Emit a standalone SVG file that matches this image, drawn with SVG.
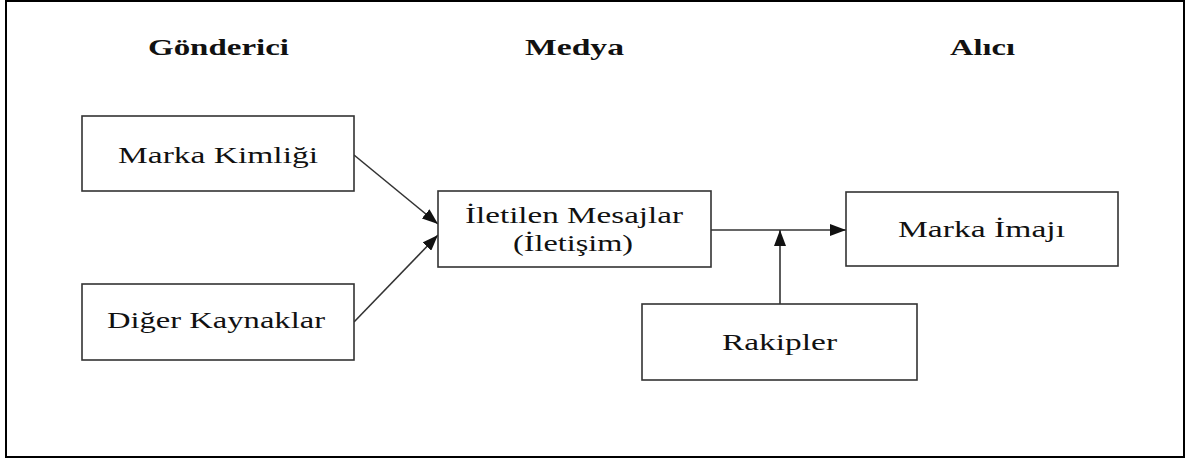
<svg xmlns="http://www.w3.org/2000/svg" width="1192" height="459" viewBox="0 0 1192 459">
  <defs>
    <marker id="arrow" markerUnits="userSpaceOnUse" markerWidth="16" markerHeight="12" refX="16" refY="6" orient="auto">
      <path d="M0,0 L16,6 L0,12 z" fill="#111"/>
    </marker>
    <style>
      .box { fill: #ffffff; stroke: #333; stroke-width: 1.6; }
      .lbl { font-family: "Liberation Serif", "Times New Roman", serif; font-size: 24px; fill: #111; }
      .hdr { font-family: "Liberation Serif", "Times New Roman", serif; font-size: 24px; font-weight: bold; fill: #111; }
      .conn { stroke: #333; stroke-width: 1.6; fill: none; marker-end: url(#arrow); }
    </style>
  </defs>
  <rect x="0" y="0" width="1192" height="459" fill="#ffffff"/>
  <rect x="6" y="1" width="1178" height="456" fill="none" stroke="#000" stroke-width="2"/>

  <g id="headers">
    <text class="hdr" x="148" y="55" textLength="141" lengthAdjust="spacingAndGlyphs">Gönderici</text>
    <text class="hdr" x="525" y="55" textLength="99" lengthAdjust="spacingAndGlyphs">Medya</text>
    <text class="hdr" x="950" y="55" textLength="65" lengthAdjust="spacingAndGlyphs">Alıcı</text>
  </g>

  <g id="connectors">
    <line class="conn" x1="354" y1="155" x2="438" y2="224"/>
    <line class="conn" x1="354" y1="322" x2="438" y2="235"/>
    <line class="conn" x1="711" y1="230" x2="846" y2="230"/>
    <line class="conn" x1="780" y1="304" x2="780" y2="230"/>
  </g>

  <g id="marka-kimligi">
    <rect class="box" x="82" y="116" width="272" height="75"/>
    <text class="lbl" x="118" y="163" textLength="200" lengthAdjust="spacingAndGlyphs">Marka Kimliği</text>
  </g>

  <g id="diger-kaynaklar">
    <rect class="box" x="82" y="284" width="272" height="76"/>
    <text class="lbl" x="107" y="328" textLength="218" lengthAdjust="spacingAndGlyphs">Diğer Kaynaklar</text>
  </g>

  <g id="iletilen-mesajlar">
    <rect class="box" x="438" y="191" width="273" height="76"/>
    <text class="lbl" x="465" y="223" textLength="218" lengthAdjust="spacingAndGlyphs">İletilen Mesajlar</text>
    <text class="lbl" x="513" y="251" textLength="120" lengthAdjust="spacingAndGlyphs">(İletişim)</text>
  </g>

  <g id="marka-imaji">
    <rect class="box" x="846" y="192" width="272" height="74"/>
    <text class="lbl" x="898" y="237" textLength="167" lengthAdjust="spacingAndGlyphs">Marka İmajı</text>
  </g>

  <g id="rakipler">
    <rect class="box" x="642" y="304" width="275" height="76"/>
    <text class="lbl" x="722" y="350" textLength="115" lengthAdjust="spacingAndGlyphs">Rakipler</text>
  </g>
</svg>
